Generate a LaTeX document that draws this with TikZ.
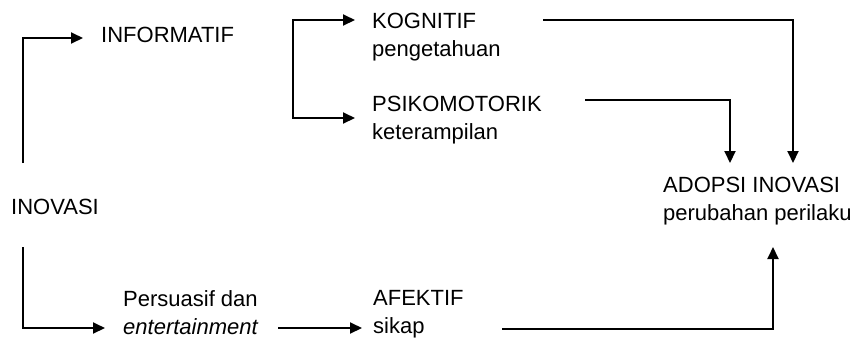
\documentclass[tikz,border=0pt]{standalone}
\usepackage{fontspec}
\setmainfont{Liberation Sans}
\usetikzlibrary{arrows.meta,positioning,calc}

\begin{document}
\begin{tikzpicture}[
    x=1pt, y=-1pt,
    lbl/.style={anchor=north west, inner sep=0pt, align=left, font=\fontsize{22}{28}\selectfont},
    arrow/.style={-{Triangle[length=12pt,width=11pt]}, line width=2pt},
    twoway/.style={{Triangle[length=12pt,width=11pt]}-{Triangle[length=12pt,width=11pt]}, line width=2pt}
]
    \useasboundingbox (0,0) rectangle (854,349);

    % Inovasi (left)
    \node[lbl] (inovasi) at (11,199) {INOVASI};

    % Informatif branch (top)
    \node[lbl] (informatif) at (101,27) {INFORMATIF};
    \node[lbl] (kognitif) at (372,13) {KOGNITIF\\pengetahuan};
    \node[lbl] (psikomotorik) at (372,96) {PSIKOMOTORIK\\keterampilan};

    % Persuasif branch (bottom)
    \node[lbl] (persuasif) at (123,290) {Persuasif dan\\\textit{entertainment}};
    \node[lbl] (afektif) at (373,290) {AFEKTIF\\sikap};

    % Adopsi (right)
    \node[lbl] (adopsi) at (663,177) {ADOPSI INOVASI\\perubahan perilaku};

    % Spine of the bracket
    \coordinate (spine) at (293,69);

    % Arrows
    \draw[arrow] ([shift={(12,-36)}]inovasi.north west) |- ([shift={(-18,11)}]informatif.north west);
    \draw[arrow] ([shift={(12,48)}]inovasi.north west) |- ([shift={(-18,38)}]persuasif.north west);
    \draw[arrow] ([shift={(155,38)}]persuasif.north west) -- ([shift={(-11,38)}]afektif.north west);
    \draw[twoway] ([shift={(-17,7)}]kognitif.north west) -| (spine) |- ([shift={(-17,22)}]psikomotorik.north west);
    \draw[arrow] ([shift={(171,7)}]kognitif.north west) -| ([shift={(130,-14)}]adopsi.north west);
    \draw[arrow] ([shift={(213,4)}]psikomotorik.north west) -| ([shift={(67,-14)}]adopsi.north west);
    \draw[arrow] ([shift={(129,39)}]afektif.north west) -| ([shift={(110,70)}]adopsi.north west);
\end{tikzpicture}
\end{document}
